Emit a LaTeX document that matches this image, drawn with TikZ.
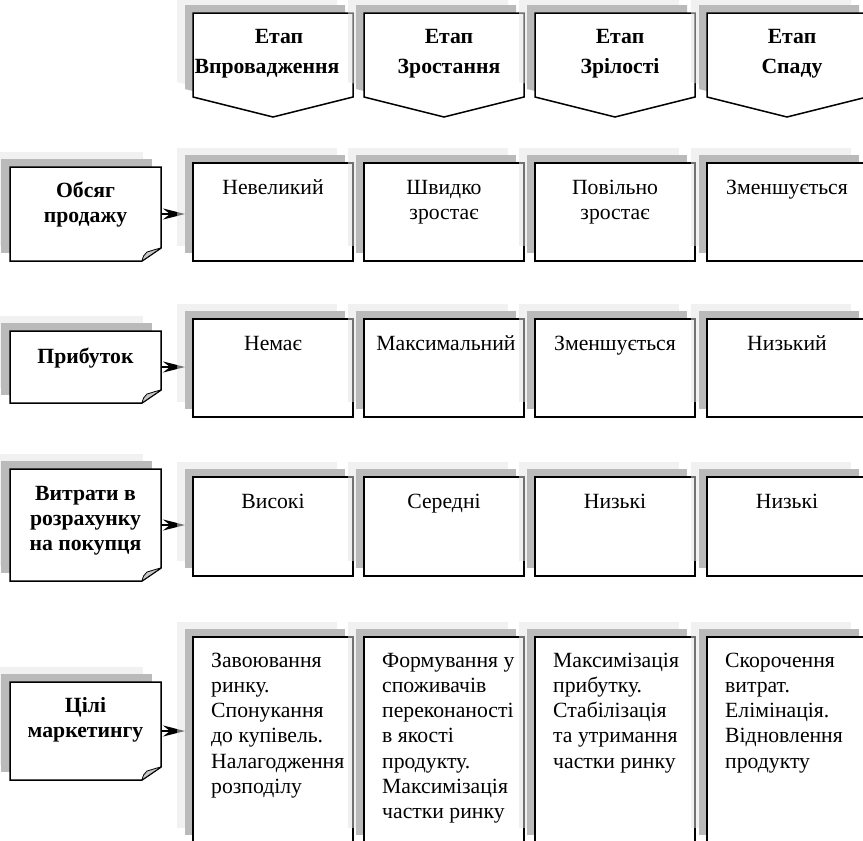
\documentclass[tikz,border=0pt]{standalone}
\usepackage{fontspec}
\setmainfont{Liberation Serif}
\usetikzlibrary{arrows.meta}

\tikzset{
  softshade/.style={fill=black!11, fill opacity=0.5},
  hardshade/.style={fill=black!27},
  frame/.style={draw=black, line width=1.5pt, fill=white},
  cell/.style={frame, rectangle, inner sep=0pt, outer sep=0pt, anchor=north west, minimum width=160pt},
  blank/.style={rectangle, inner sep=0pt, outer sep=0pt, anchor=north west},
  plain/.style={font=\fontsize{21.7}{25.2}\selectfont, inner sep=0pt},
  heavy/.style={font=\bfseries\fontsize{21.7}{25.2}\selectfont, inner sep=0pt},
  headtext/.style={font=\bfseries\fontsize{21.7}{30.5}\selectfont, inner sep=0pt, anchor=north, align=center},
  flap/.style={fill=black!22, draw=black, line width=0.8pt, line join=round},
  pointer/.style={line width=1.3pt, -{Stealth[length=22pt, width=11pt, inset=7pt]}},
}
% strut that fixes the top of a text block 26pt above its first baseline
\newcommand\firstline{\rule{0pt}{26pt}}

\begin{document}
\begin{tikzpicture}[x=1pt, y=-1pt]
\useasboundingbox (0,0) rectangle (863,841);
\clip (0,0) rectangle (863,841);

% ---- stage headers (pentagon banners with double shadow)
\foreach \c/\xx in {1/193, 2/364, 3/535, 4/707} {
  \fill[softshade] ({\xx-16},-2) -- ++(160,0) -- ++(0,84) -- ++(-80,20) -- ++(-80,-20) -- cycle;
  \fill[hardshade] ({\xx-8},5) -- ++(160,0) -- ++(0,84) -- ++(-80,20) -- ++(-80,-20) -- cycle;
  \node[blank, minimum width=160pt, minimum height=84pt] (h\c) at (\xx,13) {};
  \draw[frame] (h\c.north west) -- (h\c.north east) -- (h\c.south east)
     -- ([yshift=-20pt]h\c.south) -- (h\c.south west) -- cycle;
}
\node[headtext] (th1) at (267,17) {\firstline\hspace*{24pt}Етап\\Впровадження};
\node[headtext] (th2) at (449,17) {\firstline Етап\\Зростання};
\node[headtext] (th3) at (620,17) {\firstline Етап\\Зрілості};
\node[headtext] (th4) at (792,17) {\firstline Етап\\Спаду};

% ---- row titles (sheets with a curled corner) and pointers
\foreach \r/\ty/\by in {1/167/261, 2/331/403, 3/469/581, 4/682/780} {
  \fill[softshade] (-8,{\ty-15}) rectangle (143,{\by-15});
  \fill[hardshade] (1,{\ty-8}) rectangle (152,{\by-8});
  \node[blank, minimum width=151pt, minimum height={(\by-\ty)*1pt}] (l\r) at (10,\ty) {};
  \draw[frame] (l\r.north west) -- (l\r.north east) -- ([yshift=13pt]l\r.south east)
     -- ([xshift=-19pt]l\r.south east) -- (l\r.south west) -- cycle;
  \path[flap] (142,\by) .. controls (143,{\by-4}) and (144,{\by-7}) .. (147,{\by-9})
     .. controls (151,{\by-10}) and (156,{\by-12}) .. (161,{\by-13}) -- cycle;
  \coordinate (a\r) at (185,{(\ty+\by)/2});
  \draw[pointer] (l\r.east) -- (a\r);
}
\node[heavy, anchor=north, align=center] (tl1) at (85.5,171) {\firstline Обсяг\\продажу};
\node[heavy, anchor=north, align=center] (tl2) at (85.5,337) {\firstline Прибуток};
\node[heavy, anchor=north, align=center] (tl3) at (85.5,474) {\firstline Витрати в\\розрахунку\\на покупця};
\node[heavy, anchor=north, align=center] (tl4) at (85.5,686) {\firstline Цілі\\маркетингу};

% ---- cells of the table
\foreach \r/\ty/\hh in {1/163/98, 2/319/98, 3/477/99, 4/637/206} {
  \foreach \c/\xx in {1/193, 2/364, 3/535, 4/707} {
    \fill[softshade] ({\xx-16},{\ty-15}) rectangle ++(160,\hh);
    \fill[hardshade] ({\xx-8},{\ty-8}) rectangle ++(160,\hh);
    \node[cell, minimum height=\hh pt] (c\r\c) at (\xx,\ty) {};
  }
}

% sales volume
\node[plain, anchor=north, align=center] (t11) at (273,168) {\firstline Невеликий};
\node[plain, anchor=north, align=center] (t12) at (444,168) {\firstline Швидко\\зростає};
\node[plain, anchor=north, align=center] (t13) at (615,168) {\firstline Повільно\\зростає};
\node[plain, anchor=north, align=center] (t14) at (787,168) {\firstline Зменшується};
% profit
\node[plain, anchor=north, align=center] (t21) at (273,324) {\firstline Немає};
\node[plain, anchor=north, align=center] (t22) at (446,324) {\firstline Максимальний};
\node[plain, anchor=north, align=center] (t23) at (615,324) {\firstline Зменшується};
\node[plain, anchor=north, align=center] (t24) at (787,324) {\firstline Низький};
% cost per customer
\node[plain, anchor=north, align=center] (t31) at (273,482) {\firstline Високі};
\node[plain, anchor=north, align=center] (t32) at (444,482) {\firstline Середні};
\node[plain, anchor=north, align=center] (t33) at (615,482) {\firstline Низькі};
\node[plain, anchor=north, align=center] (t34) at (787,482) {\firstline Низькі};
% marketing goals
\node[plain, anchor=north west, align=left] (t41) at (211,641)
  {\firstline Завоювання\\ринку.\\Спонукання\\до купівель.\\Налагодження\\розподілу};
\node[plain, anchor=north west, align=left] (t42) at (382,641)
  {\firstline Формування у\\споживачів\\переконаності\\в якості\\продукту.\\Максимізація\\частки ринку};
\node[plain, anchor=north west, align=left] (t43) at (553,641)
  {\firstline Максимізація\\прибутку.\\Стабілізація\\та утримання\\частки ринку};
\node[plain, anchor=north west, align=left] (t44) at (725,641)
  {\firstline Скорочення\\витрат.\\Елімінація.\\Відновлення\\продукту};
\end{tikzpicture}
\end{document}
